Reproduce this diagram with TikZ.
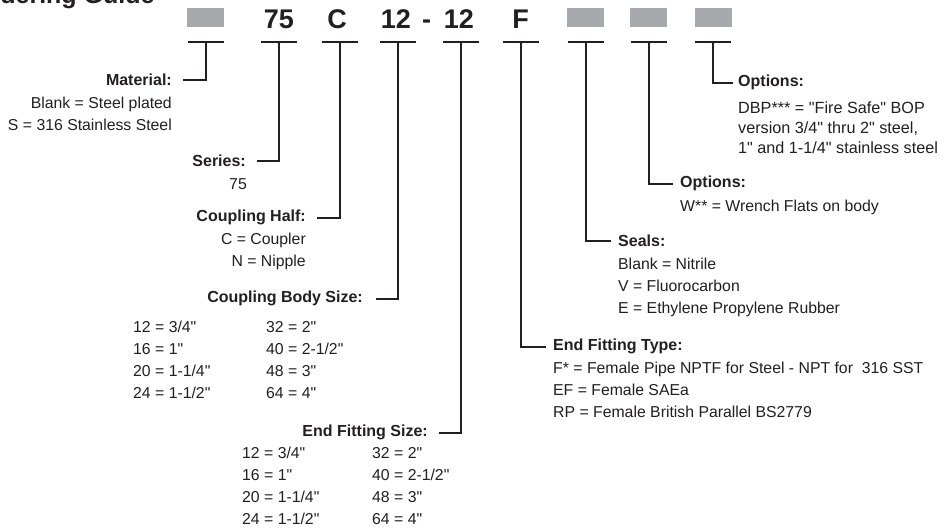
\documentclass[tikz,border=0pt]{standalone}
\usepackage{fontspec}
\setmainfont{Liberation Sans}
\newfontfamily\plainsf{Liberation Sans}
\definecolor{ink}{HTML}{231F20}
\definecolor{blank}{HTML}{A7A9AC}

\begin{document}
\begin{tikzpicture}[x=1pt,y=-1pt,
  code/.style={font=\plainsf\fontsize{27}{27}\selectfont\bfseries,text=ink,inner sep=0pt,anchor=base},
  slot/.style={fill=blank,minimum width=37pt,minimum height=19pt,inner sep=0pt},
  bar/.style={line width=2.2pt,ink},
  lead/.style={line width=2pt,ink},
  hd/.style={font=\plainsf\fontsize{16}{22}\selectfont\bfseries,text=ink,inner sep=0pt},
  txt/.style={font=\plainsf\fontsize{15.8}{22}\selectfont,text=ink,inner sep=0pt}]
  \useasboundingbox (0,0) rectangle (946,529);
  \fill[white] (0,0) rectangle (946,529);
  \node[font=\plainsf\fontsize{25}{25}\selectfont\bfseries,text=ink,inner sep=0pt,anchor=base west] (title) at (-29,4) {Ordering Guide};

  % ===== part number =====
  \node[slot] (s1) at (205.5,17.5) {};
  \node[code] (c2) at (279,29) {75};
  \node[code] (c3) at (337,29) {C};
  \node[code] (c4) at (396,29) {12};
  \node[code] (dash) at (426.5,29) {-};
  \node[code] (c5) at (459,29) {12};
  \node[code] (c6) at (520.5,29) {F};
  \node[slot] (s7) at (585.5,17.5) {};
  \node[slot] (s8) at (648.5,17.5) {};
  \node[slot] (s9) at (713.5,17.5) {};
  \foreach \x [count=\i] in {206,278.5,339.5,398,460.5,521,585.5,649,712.5} {
    \coordinate (b\i) at (\x,42);
    \draw[bar] ([xshift=-18pt]b\i) -- ([xshift=18pt]b\i);
  }

  % ===== left labels =====
  \node[hd,anchor=base east] (mat) at (172,86) {Material:};
  \node[txt,anchor=base east] (matv) at (172,109) {\begin{tabular}[t]{@{}r@{}}Blank = Steel plated\\S = 316 Stainless Steel\end{tabular}};
  \node[hd,anchor=base east] (ser) at (246,167) {Series:};
  \node[txt,anchor=base east] (serv) at (247,190) {75};
  \node[hd,anchor=base east] (half) at (306,222) {Coupling Half:};
  \node[txt,anchor=base east] (halfv) at (306,245) {\begin{tabular}[t]{@{}r@{}}C = Coupler\\N = Nipple\end{tabular}};
  \node[hd,anchor=base east] (cbs) at (363,303) {Coupling Body Size:};
  \node[txt,anchor=base west] (cbsv) at (133,333) {\begin{tabular}[t]{@{}p{133pt}@{}l@{}}12 = 3/4" & 32 = 2"\\16 = 1" & 40 = 2-1/2"\\20 = 1-1/4" & 48 = 3"\\24 = 1-1/2" & 64 = 4"\end{tabular}};
  \node[hd,anchor=base east] (efs) at (428,437) {End Fitting Size:};
  \node[txt,anchor=base west] (efsv) at (242,459) {\begin{tabular}[t]{@{}p{130pt}@{}l@{}}12 = 3/4" & 32 = 2"\\16 = 1" & 40 = 2-1/2"\\20 = 1-1/4" & 48 = 3"\\24 = 1-1/2" & 64 = 4"\end{tabular}};

  % ===== right labels =====
  \node[hd,anchor=base west] (eft) at (553,351) {End Fitting Type:};
  \node[txt,anchor=base west] (eftv) at (553,374) {\begin{tabular}[t]{@{}l@{}}F* = Female Pipe NPTF for Steel - NPT for\ \ 316 SST\\EF = Female SAEa\\RP = Female British Parallel BS2779\end{tabular}};
  \node[hd,anchor=base west] (seal) at (618,247) {Seals:};
  \node[txt,anchor=base west] (sealv) at (618,270) {\begin{tabular}[t]{@{}l@{}}Blank = Nitrile\\V = Fluorocarbon\\E = Ethylene Propylene Rubber\end{tabular}};
  \node[hd,anchor=base west] (optb) at (680,188) {Options:};
  \node[txt,anchor=base west] (optbv) at (680,212) {W** = Wrench Flats on body};
  \node[hd,anchor=base west] (opta) at (738,87) {Options:};
  \node[txt,font=\plainsf\fontsize{16.2}{20}\selectfont,anchor=base west] (optav) at (738,114) {\begin{tabular}[t]{@{}l@{}}DBP*** = "Fire Safe" BOP\\version 3/4" thru 2" steel,\\1" and 1-1/4" stainless steel\end{tabular}};

  % ===== leaders =====
  \draw[lead] (b1) |- ([xshift=11pt]mat.east);
  \draw[lead] (b2) |- ([xshift=11pt]ser.east);
  \draw[lead] (b3) |- ([xshift=11pt]half.east);
  \draw[lead] (b4) |- ([xshift=13pt]cbs.east);
  \draw[lead] (b5) |- ([xshift=11pt]efs.east);
  \draw[lead] (b6) |- ([xshift=-7pt]eft.west);
  \draw[lead] (b7) |- ([xshift=-7pt]seal.west);
  \draw[lead] (b8) |- ([xshift=-7pt]optb.west);
  \draw[lead] (b9) |- ([xshift=-5pt]opta.west);
\end{tikzpicture}
\end{document}
